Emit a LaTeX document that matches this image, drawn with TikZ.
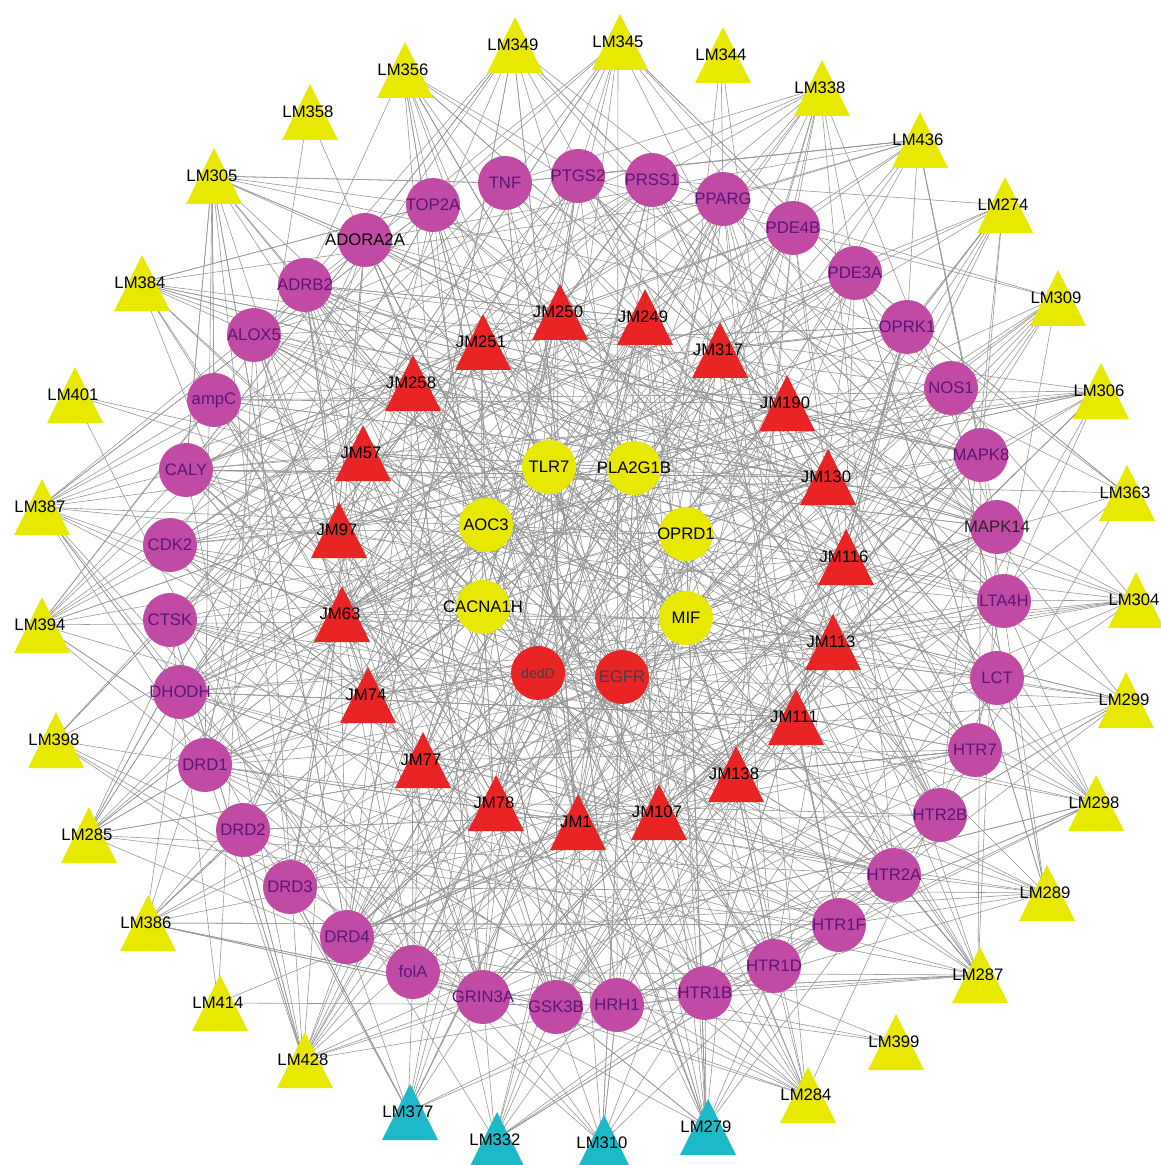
\documentclass[tikz,border=0pt]{standalone}
\usepackage{fontspec}
\setmainfont{Liberation Sans}
\pgfdeclarelayer{background}
\pgfsetlayers{background,main}
\definecolor{tyel}{RGB}{232,232,0}
\definecolor{tred}{RGB}{232,36,36}
\definecolor{tcyan}{RGB}{30,185,200}
\definecolor{tmag}{RGB}{192,74,164}
\definecolor{tpur}{RGB}{92,22,118}
\definecolor{edgec}{RGB}{150,150,150}
\tikzset{
 lab/.style={inner sep=0pt, font=\fontsize{9.5}{10}\selectfont, text=black},
 tgt/.style={circle, minimum size=1.08cm, inner sep=0pt},
 magc/.style={tgt, fill=tmag},
 yelc/.style={tgt, fill=tyel},
 redc/.style={tgt, fill=tred},
 mt/.style={inner sep=0pt, font=\fontsize{9.5}{10}\selectfont, text=tpur},
 bt/.style={inner sep=0pt, font=\fontsize{9.5}{10}\selectfont, text=black},
 rt/.style={inner sep=0pt, font=\fontsize{9.5}{10}\selectfont, text=black!75},
 edge/.style={draw=edgec, line width=0.33pt},
}
\newcommand\cmpd[5]{\fill[#4] (#1-28,#2+28) -- (#1+28,#2+28) -- (#1,#2-28) -- cycle; \node[lab] (#3) at (#1-2,#2) {#5};}
\begin{document}
\begin{tikzpicture}[x=0.02cm, y=-0.02cm]
\useasboundingbox (0,0) rectangle (1160,1165);
% targets: magenta circles
\node[magc, label={[mt]center:TOP2A}] (t1) at (433,205) {};
\node[magc, label={[mt]center:TNF}] (t2) at (505,183) {};
\node[magc, label={[mt]center:PTGS2}] (t3) at (578,176) {};
\node[magc, label={[mt]center:PRSS1}] (t4) at (652,180) {};
\node[magc, label={[mt]center:PPARG}] (t5) at (723,199) {};
\node[magc, label={[mt]center:PDE4B}] (t6) at (793,228) {};
\node[magc, label={[mt]center:PDE3A}] (t7) at (855,273) {};
\node[magc, label={[mt]center:OPRK1}] (t8) at (907,327) {};
\node[magc, label={[mt]center:NOS1}] (t9) at (951,388) {};
\node[magc, label={[mt]center:MAPK8}] (t10) at (981,455) {};
\node[magc, label={[bt, text=black!85]center:MAPK14}] (t11) at (997,527) {};
\node[magc, label={[mt]center:LTA4H}] (t12) at (1004,601) {};
\node[magc, label={[mt]center:LCT}] (t13) at (997,678) {};
\node[magc, label={[mt]center:HTR7}] (t14) at (975,750) {};
\node[magc, label={[mt]center:HTR2B}] (t15) at (940,815) {};
\node[magc, label={[mt]center:HTR2A}] (t16) at (894,875) {};
\node[magc, label={[mt]center:HTR1F}] (t17) at (839,925) {};
\node[magc, label={[mt]center:HTR1D}] (t18) at (774,966) {};
\node[magc, label={[mt]center:HTR1B}] (t19) at (705,993) {};
\node[magc, label={[mt]center:HRH1}] (t20) at (617,1005) {};
\node[magc, label={[mt]center:GSK3B}] (t21) at (556,1007) {};
\node[magc, label={[mt]center:GRIN3A}] (t22) at (483,997) {};
\node[magc, label={[mt]center:folA}] (t23) at (413,972) {};
\node[magc, label={[mt]center:DRD4}] (t24) at (347,937) {};
\node[magc, label={[mt]center:DRD3}] (t25) at (290,887) {};
\node[magc, label={[mt]center:DRD2}] (t26) at (243,830) {};
\node[magc, label={[mt]center:DRD1}] (t27) at (205,765) {};
\node[magc, label={[mt]center:DHODH}] (t28) at (180,692) {};
\node[magc, label={[mt]center:CTSK}] (t29) at (170,620) {};
\node[magc, label={[mt]center:CDK2}] (t30) at (170,545) {};
\node[magc, label={[mt]center:CALY}] (t31) at (186,470) {};
\node[magc, label={[mt]center:ampC}] (t32) at (214,400) {};
\node[magc, label={[mt]center:ALOX5}] (t33) at (254,335) {};
\node[magc, label={[mt]center:ADRB2}] (t34) at (305,285) {};
\node[magc, label={[bt]center:ADORA2A}] (t35) at (365,240) {};
% inner targets
\node[yelc, label={[bt]center:TLR7}] (t36) at (549,467) {};
\node[yelc, label={[bt]center:PLA2G1B}] (t37) at (634,468) {};
\node[yelc, label={[bt]center:AOC3}] (t38) at (486,525) {};
\node[yelc, label={[bt]center:OPRD1}] (t39) at (686,534) {};
\node[yelc, label={[bt]center:CACNA1H}] (t40) at (483,607) {};
\node[yelc, label={[bt]center:MIF}] (t41) at (686,618) {};
\node[redc, label={[rt, font=\fontsize{8}{9}\selectfont]center:dedD}] (t42) at (538,673) {};
\node[redc, label={[rt]center:EGFR}] (t43) at (622,677) {};
% outer compounds
\cmpd{310}{112}{LM358}{tyel}{LM358}
\cmpd{214}{176}{LM305}{tyel}{LM305}
\cmpd{142}{283}{LM384}{tyel}{LM384}
\cmpd{75}{395}{LM401}{tyel}{LM401}
\cmpd{42}{507}{LM387}{tyel}{LM387}
\cmpd{42}{625}{LM394}{tyel}{LM394}
\cmpd{56}{740}{LM398}{tyel}{LM398}
\cmpd{89}{835}{LM285}{tyel}{LM285}
\cmpd{148}{923}{LM386}{tyel}{LM386}
\cmpd{220}{1003}{LM414}{tyel}{LM414}
\cmpd{305}{1060}{LM428}{tyel}{LM428}
\cmpd{808}{1095}{LM284}{tyel}{LM284}
\cmpd{896}{1042}{LM399}{tyel}{LM399}
\cmpd{980}{975}{LM287}{tyel}{LM287}
\cmpd{1047}{893}{LM289}{tyel}{LM289}
\cmpd{1096}{803}{LM298}{tyel}{LM298}
\cmpd{1126}{700}{LM299}{tyel}{LM299}
\cmpd{1136}{600}{LM304}{tyel}{LM304}
\cmpd{1127}{493}{LM363}{tyel}{LM363}
\cmpd{1101}{391}{LM306}{tyel}{LM306}
\cmpd{1058}{298}{LM309}{tyel}{LM309}
\cmpd{1005}{205}{LM274}{tyel}{LM274}
\cmpd{920}{140}{LM436}{tyel}{LM436}
\cmpd{822}{88}{LM338}{tyel}{LM338}
\cmpd{723}{55}{LM344}{tyel}{LM344}
\cmpd{620}{42}{LM345}{tyel}{LM345}
\cmpd{515}{45}{LM349}{tyel}{LM349}
\cmpd{405}{70}{LM356}{tyel}{LM356}
\cmpd{410}{1112}{LM377}{tcyan}{LM377}
\cmpd{497}{1140}{LM332}{tcyan}{LM332}
\cmpd{604}{1143}{LM310}{tcyan}{LM310}
\cmpd{708}{1127}{LM279}{tcyan}{LM279}
% inner compounds
\cmpd{560}{312}{JM250}{tred}{JM250}
\cmpd{645}{317}{JM249}{tred}{JM249}
\cmpd{483}{342}{JM251}{tred}{JM251}
\cmpd{720}{350}{JM317}{tred}{JM317}
\cmpd{413}{383}{JM258}{tred}{JM258}
\cmpd{787}{403}{JM190}{tred}{JM190}
\cmpd{828}{477}{JM130}{tred}{JM130}
\cmpd{363}{453}{JM57}{tred}{JM57}
\cmpd{339}{530}{JM97}{tred}{JM97}
\cmpd{846}{557}{JM116}{tred}{JM116}
\cmpd{342}{614}{JM63}{tred}{JM63}
\cmpd{833}{642}{JM113}{tred}{JM113}
\cmpd{368}{695}{JM74}{tred}{JM74}
\cmpd{796}{717}{JM111}{tred}{JM111}
\cmpd{423}{760}{JM77}{tred}{JM77}
\cmpd{736}{774}{JM138}{tred}{JM138}
\cmpd{496}{803}{JM78}{tred}{JM78}
\cmpd{578}{822}{JM1}{tred}{JM1}
\cmpd{659}{812}{JM107}{tred}{JM107}
% edges
\begin{pgfonlayer}{background}
\fill[white] (0,0) rectangle (1160,1165);
\pgfmathsetseed{4242}
\foreach \c/\d in {LM358/2,LM305/20,LM384/15,LM401/3,LM387/18,LM394/15,LM398/8,LM285/16,LM386/15,LM414/4,LM428/20,LM284/15,LM399/3,LM287/20,LM289/15,LM298/15,LM299/12,LM304/12,LM363/8,LM306/15,LM309/12,LM274/12,LM436/15,LM338/15,LM344/3,LM345/15,LM349/15,LM356/15,LM377/15,LM332/12,LM310/12,LM279/20,JM250/25,JM249/25,JM251/25,JM317/25,JM258/25,JM190/25,JM130/25,JM57/25,JM97/25,JM116/25,JM63/25,JM113/25,JM74/25,JM111/25,JM77/25,JM138/25,JM78/25,JM1/25,JM107/25}{
  \foreach \k in {1,...,\d}{
    \pgfmathrandominteger{\r}{1}{43}
    \draw[edge] (\c.center) -- (t\r.center);
  }
}
\end{pgfonlayer}
\end{tikzpicture}
\end{document}
